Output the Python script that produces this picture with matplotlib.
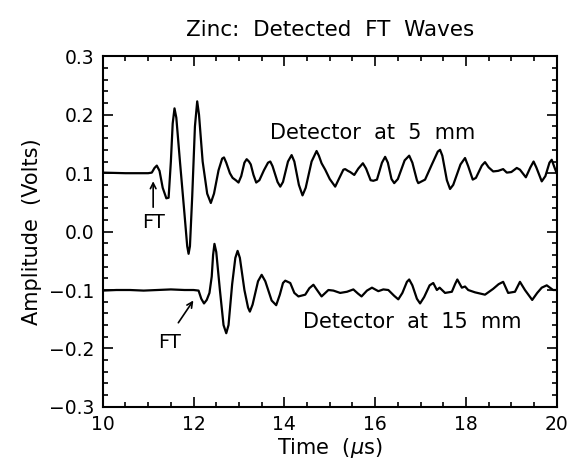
import matplotlib
matplotlib.use("Agg")
import matplotlib.pyplot as plt
from matplotlib.ticker import MultipleLocator, FuncFormatter

# Detector at 5 mm (time in us, amplitude in V)
t_5mm = [10.0, 10.5, 11.0, 11.08, 11.14, 11.19, 11.25, 11.32, 11.40, 11.45,
         11.50, 11.54, 11.58, 11.62, 11.70, 11.80, 11.86, 11.89, 11.92, 11.97,
         12.03, 12.08, 12.12, 12.20, 12.30, 12.38, 12.45, 12.55, 12.63, 12.67,
         12.72, 12.80, 12.86, 12.93, 12.99, 13.05, 13.12, 13.17, 13.22, 13.26,
         13.32, 13.38, 13.45, 13.55, 13.64, 13.69, 13.74, 13.85, 13.91, 13.97,
         14.08, 14.16, 14.22, 14.32, 14.40, 14.47, 14.60, 14.71, 14.76, 14.82,
         14.90, 15.00, 15.12, 15.20, 15.30, 15.34, 15.40, 15.45, 15.54, 15.63,
         15.73, 15.80, 15.90, 15.96, 16.04, 16.15, 16.22, 16.28, 16.36, 16.42,
         16.50, 16.65, 16.75, 16.82, 16.92, 16.95, 17.10, 17.25, 17.38, 17.43,
         17.48, 17.58, 17.65, 17.72, 17.88, 17.98, 18.05, 18.15, 18.22, 18.35,
         18.42, 18.50, 18.60, 18.71, 18.82, 18.90, 19.00, 19.12, 19.19, 19.32,
         19.42, 19.49, 19.55, 19.67, 19.75, 19.84, 19.89, 19.95, 20.0]
a_5mm = [0.101, 0.100, 0.100, 0.101, 0.109, 0.113, 0.104, 0.075, 0.057, 0.058,
         0.120, 0.185, 0.211, 0.195, 0.120, 0.030, -0.025, -0.038, -0.025, 0.060,
         0.180, 0.223, 0.200, 0.120, 0.065, 0.049, 0.065, 0.105, 0.125, 0.127,
         0.118, 0.100, 0.092, 0.088, 0.084, 0.095, 0.118, 0.124, 0.120, 0.115,
         0.097, 0.084, 0.088, 0.105, 0.118, 0.120, 0.112, 0.085, 0.077, 0.085,
         0.120, 0.131, 0.120, 0.080, 0.062, 0.075, 0.120, 0.138, 0.130, 0.117,
         0.106, 0.090, 0.077, 0.090, 0.106, 0.107, 0.104, 0.102, 0.097, 0.108,
         0.117, 0.108, 0.088, 0.087, 0.089, 0.118, 0.128, 0.118, 0.090, 0.083,
         0.090, 0.122, 0.130, 0.118, 0.088, 0.083, 0.089, 0.115, 0.137, 0.140,
         0.130, 0.088, 0.073, 0.080, 0.115, 0.126, 0.112, 0.089, 0.092, 0.113,
         0.119, 0.110, 0.103, 0.104, 0.107, 0.101, 0.102, 0.109, 0.106, 0.093,
         0.110, 0.120, 0.110, 0.086, 0.095, 0.118, 0.123, 0.110, 0.100]

# Detector at 15 mm
t_15mm = [10.0, 10.3, 10.6, 10.9, 11.2, 11.5, 11.8, 12.0, 12.11, 12.17,
          12.23, 12.29, 12.35, 12.40, 12.43, 12.46, 12.50, 12.58, 12.66, 12.72,
          12.77, 12.85, 12.92, 12.97, 13.02, 13.12, 13.20, 13.24, 13.30, 13.42,
          13.50, 13.58, 13.72, 13.82, 13.90, 13.97, 14.02, 14.13, 14.22, 14.31,
          14.46, 14.55, 14.64, 14.72, 14.82, 14.97, 15.08, 15.23, 15.38, 15.52,
          15.62, 15.70, 15.82, 15.93, 16.07, 16.18, 16.29, 16.42, 16.51, 16.60,
          16.70, 16.75, 16.82, 16.92, 16.99, 17.08, 17.20, 17.28, 17.36, 17.42,
          17.54, 17.69, 17.76, 17.81, 17.91, 17.98, 18.05, 18.20, 18.42, 18.60,
          18.72, 18.82, 18.93, 19.08, 19.19, 19.30, 19.46, 19.57, 19.67, 19.78,
          19.92, 20.0]
a_15mm = [-0.101, -0.100, -0.100, -0.101, -0.100, -0.099, -0.100, -0.100, -0.101, -0.115,
          -0.123, -0.117, -0.105, -0.077, -0.040, -0.021, -0.035, -0.100, -0.160, -0.174,
          -0.160, -0.090, -0.045, -0.033, -0.045, -0.100, -0.130, -0.137, -0.125, -0.085,
          -0.074, -0.085, -0.118, -0.126, -0.108, -0.088, -0.084, -0.088, -0.105, -0.111,
          -0.108, -0.097, -0.091, -0.100, -0.111, -0.100, -0.101, -0.105, -0.103, -0.099,
          -0.106, -0.111, -0.101, -0.096, -0.102, -0.099, -0.100, -0.110, -0.116, -0.105,
          -0.086, -0.082, -0.092, -0.115, -0.123, -0.112, -0.092, -0.088, -0.100, -0.096,
          -0.105, -0.103, -0.090, -0.082, -0.096, -0.094, -0.100, -0.104, -0.108, -0.098,
          -0.090, -0.086, -0.105, -0.103, -0.086, -0.100, -0.117, -0.105, -0.096, -0.092,
          -0.100, -0.100]

fig = plt.figure(figsize=(5.71, 4.66), dpi=100)
ax = fig.add_axes([0.180, 0.127, 0.795, 0.752])

ax.plot(t_5mm, a_5mm, color="black", lw=1.6)
ax.plot(t_15mm, a_15mm, color="black", lw=1.6)

ax.set_xlim(10, 20)
ax.set_ylim(-0.3, 0.3)
ax.xaxis.set_major_locator(MultipleLocator(2))
ax.xaxis.set_minor_locator(MultipleLocator(0.5))
ax.yaxis.set_major_locator(MultipleLocator(0.1))
ax.yaxis.set_minor_locator(MultipleLocator(0.02))
ax.yaxis.set_major_formatter(FuncFormatter(
    lambda v, pos: ("%.1f" % abs(v)) if v > -1e-9 else "\u2212%.1f" % abs(v)))
ax.tick_params(which="both", direction="in", top=True, right=True, width=1.2, labelsize=13.5)
ax.tick_params(which="major", length=7)
ax.tick_params(which="minor", length=3.5)
ax.tick_params(axis="x", which="major", pad=6)
ax.tick_params(axis="y", which="major", pad=6)
for sp in ax.spines.values():
    sp.set_linewidth(1.5)

ax.set_title("Zinc:  Detected  FT  Waves", fontsize=15.5, pad=15)
ax.set_xlabel("Time  ($\\mu$s)", fontsize=15, labelpad=1)
ax.set_ylabel("Amplitude  (Volts)", fontsize=15, labelpad=5)

ax.text(13.68, 0.169, "Detector  at  5  mm", fontsize=15, va="center", ha="left")
ax.text(14.42, -0.155, "Detector  at  15  mm", fontsize=15, va="center", ha="left")

ax.annotate("", xy=(11.11, 0.091), xytext=(11.11, 0.037),
            arrowprops=dict(arrowstyle="->", color="black", lw=1.2))
ax.text(11.11, 0.015, "FT", fontsize=14, ha="center", va="center")
ax.annotate("", xy=(12.03, -0.114), xytext=(11.63, -0.160),
            arrowprops=dict(arrowstyle="->", color="black", lw=1.2))
ax.text(11.48, -0.190, "FT", fontsize=14, ha="center", va="center")

fig.savefig("out.png", dpi=100)
